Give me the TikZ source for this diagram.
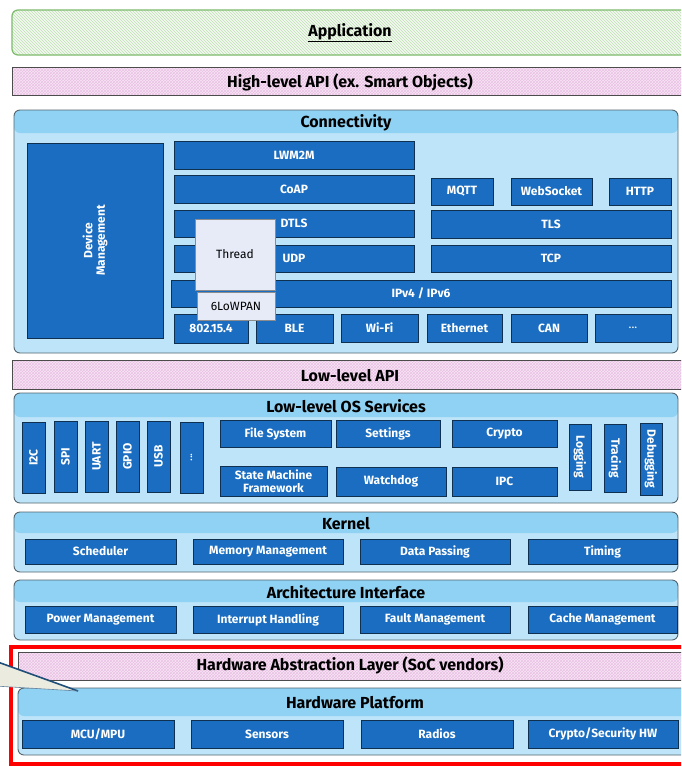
\documentclass[tikz,border=0pt]{standalone}
\usepackage{fontspec}
\setmainfont{Fira Sans}
\usetikzlibrary{patterns}
\definecolor{pfill}{HTML}{BDE4F8}
\definecolor{hfill}{HTML}{8FD2F3}
\definecolor{pborder}{HTML}{55656F}
\definecolor{dblue}{HTML}{1A6DC0}
\definecolor{dborder}{HTML}{10304F}
\definecolor{thfill}{HTML}{E6EBF7}
\definecolor{pinkf}{HTML}{F8E4F5}
\definecolor{pinkl}{HTML}{E9C3E4}
\definecolor{greenf}{HTML}{F4FAF1}
\definecolor{greenl}{HTML}{BFE0B5}
\definecolor{greenb}{HTML}{7DBB6C}
\definecolor{calf}{HTML}{ECEBDF}
\definecolor{calb}{HTML}{1F4E79}
\newcommand\bx[7]{\node[#1, minimum width={#5-#3}, minimum height={#6-#4}] (#2) at ({(#3+#5)/2},{(#4+#6)/2}) {#7};}
\newcommand\vbx[8]{\node[#1, rotate=#8, minimum width={#6-#4}, minimum height={#5-#3}] (#2) at ({(#3+#5)/2},{(#4+#6)/2}) {#7};}
\newcommand\panel[7]{%
  \node[panelbox, minimum width={#5-#3}, minimum height={#6-#4},
    path picture={\fill[hfill] (path picture bounding box.north west) rectangle ([yshift=-#7pt]path picture bounding box.north east);}]
    (#1) at ({(#3+#5)/2},{(#4+#6)/2}) {};
  \node[ttl] (#1-t) at ({(#3+#5)/2},{#4+#7/2+1}) {#2};}
\begin{document}
\begin{tikzpicture}[x=1pt,y=-1pt,
  every node/.style={inner sep=0pt, outer sep=0pt},
  blue/.style={draw=dborder, fill=dblue, line width=0.9pt, text=white, font=\bfseries\fontsize{12}{12.5}\selectfont, align=center},
  panelbox/.style={draw=pborder, fill=pfill, line width=0.9pt, rounded corners=6pt},
  ttl/.style={font=\bfseries\fontsize{16}{18}\selectfont},
  pinkbox/.style={draw=black!70, line width=0.9pt, preaction={fill=pinkf}, pattern=crosshatch, pattern color=pinkl},
  greenbox/.style={draw=greenb, line width=1.2pt, rounded corners=6pt, preaction={fill=greenf}, pattern=north west lines, pattern color=greenl},
  thr/.style={draw=black!45, fill=thfill, line width=0.8pt, font=\fontsize{12}{13}\selectfont}
]
\useasboundingbox (0,0) rectangle (681,766);
\clip (0,0) rectangle (681,766);
\fill[white] (0,0) rectangle (681,766);

% top layers
\bx{greenbox}{app}{12}{10}{692}{55}{}
\node[ttl] (appt) at (350,33) {\underline{Application}};
\bx{pinkbox}{hapi}{12}{67}{692}{95}{}
\node[ttl] (hapit) at (350,82) {High-level API (ex. Smart Objects)};

% Connectivity
\panel{conn}{Connectivity}{14}{110}{678}{353}{23}
\vbx{blue}{devm}{27}{143}{163}{338}{Device\\Management}{90}
\bx{blue}{lwm}{174}{141}{414}{169}{LWM2M}
\bx{blue}{coap}{174}{175}{414}{203}{CoAP}
\bx{blue}{dtls}{174}{210}{414}{237}{DTLS}
\bx{blue}{udp}{174}{245}{414}{272}{UDP}
\bx{blue}{ip}{171}{280}{671}{307}{IPv4 / IPv6}
\bx{blue}{l802}{174}{314}{248}{343}{802.15.4}
\bx{blue}{ble}{256}{314}{333}{343}{BLE}
\bx{blue}{wifi}{341}{314}{418}{342}{Wi-Fi}
\bx{blue}{eth}{427}{314}{502}{342}{Ethernet}
\bx{blue}{can}{511}{314}{587}{342}{CAN}
\bx{blue}{cdots}{595}{314}{671}{342}{\mdseries ...}
\bx{blue}{mqtt}{431}{178}{493}{205}{MQTT}
\bx{blue}{ws}{511}{178}{592}{205}{WebSocket}
\bx{blue}{http}{609}{178}{671}{205}{HTTP}
\bx{blue}{tls}{431}{210}{671}{238}{TLS}
\bx{blue}{tcp}{431}{245}{671}{272}{TCP}
\bx{thr}{thread}{195}{219}{275}{290}{Thread}
\bx{thr}{lowpan}{197}{292}{275}{320}{6LoWPAN}

% Low-level API
\bx{pinkbox}{lapi}{12}{360}{692}{389}{}
\node[ttl] (lapit) at (350,376) {Low-level API};

% Low-level OS services
\panel{llos}{Low-level OS Services}{14}{393}{678}{503}{24}
\vbx{blue}{i2c}{22}{422}{45}{493}{I2C}{90}
\vbx{blue}{spi}{54}{421}{77}{492}{SPI}{90}
\vbx{blue}{uart}{85}{421}{108}{492}{UART}{90}
\vbx{blue}{gpio}{116}{421}{139}{492}{GPIO}{90}
\vbx{blue}{usb}{147}{421}{170}{492}{USB}{90}
\vbx{blue}{odots}{180}{422}{203}{493}{\mdseries ...}{90}
\bx{blue}{fs}{220}{420}{331}{447}{File System}
\bx{blue}{set}{336}{420}{440}{447}{Settings}
\bx{blue}{cry}{452}{420}{557}{447}{Crypto}
\bx{blue}{smf}{220}{466}{327}{496}{State Machine\\Framework}
\bx{blue}{wd}{336}{467}{446}{496}{Watchdog}
\bx{blue}{ipc}{452}{467}{557}{496}{IPC}
\vbx{blue}{log}{569}{424}{591}{490}{Logging}{-90}
\vbx{blue}{trc}{604}{424}{626}{492}{Tracing}{-90}
\vbx{blue}{dbg}{640}{423}{662}{495}{Debugging}{-90}

% Kernel
\panel{kern}{Kernel}{14}{512}{678}{572}{21}
\bx{blue}{sch}{25}{539}{176}{564}{Scheduler}
\bx{blue}{mem}{193}{539}{343}{564}{Memory Management}
\bx{blue}{dp}{360}{539}{510}{564}{Data Passing}
\bx{blue}{tim}{528}{539}{677}{564}{Timing}

% Architecture interface
\panel{arch}{Architecture Interface}{14}{580}{678}{640}{22}
\bx{blue}{pm}{25}{606}{176}{633}{Power Management}
\bx{blue}{ih}{193}{606}{343}{633}{Interrupt Handling}
\bx{blue}{fm}{360}{606}{510}{633}{Fault Management}
\bx{blue}{cm}{528}{606}{677}{633}{Cache Management}

% HAL and hardware platform
\bx{pinkbox}{hal}{18}{652}{692}{680}{}
\node[ttl] (halt) at (350,665) {Hardware Abstraction Layer (SoC vendors)};
\panel{hw}{Hardware Platform}{18}{688}{692}{755}{28}
\bx{blue}{mcu}{22}{720}{174}{748}{MCU/MPU}
\bx{blue}{sen}{191}{720}{343}{748}{Sensors}
\bx{blue}{rad}{361}{720}{513}{748}{Radios}
\bx{blue}{chw}{528}{720}{678}{748}{Crypto/Security HW}

% red frame
\node[draw=red, line width=4pt, minimum width=700-11, minimum height=764-647] (frame) at ({(11+700)/2},{(647+764)/2}) {};

% callout
\coordinate (ctip) at (78,691);
\coordinate (ca) at (-5,661);
\coordinate (cb) at (-5,686);
\fill[calf] (ca) -- (ctip) -- (cb) -- cycle;
\draw[calb, line width=1.6pt] (ca) -- (ctip);
\draw[calb!70, line width=0.6pt] (cb) -- (ctip);
\end{tikzpicture}
\end{document}
